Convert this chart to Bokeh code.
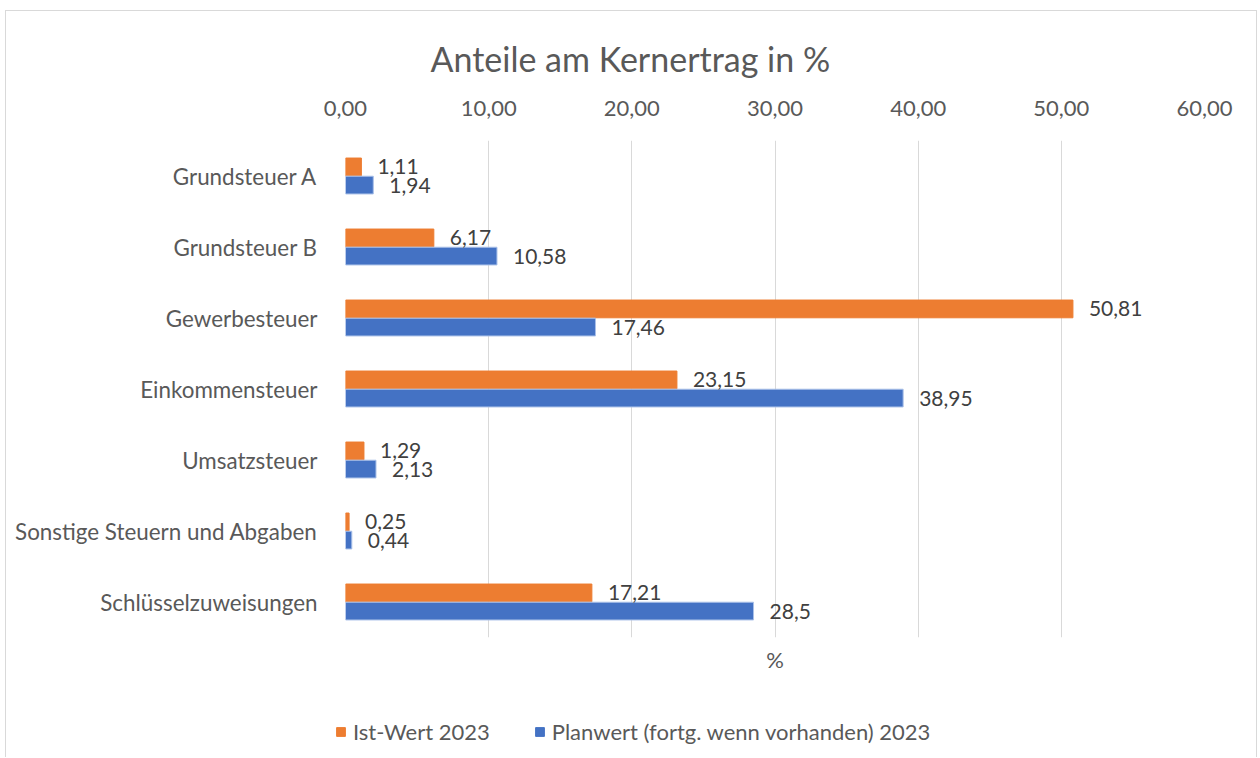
from bokeh.plotting import figure
from bokeh.layouts import column, row
from bokeh.models import (FactorRange, Range1d, FixedTicker, LinearAxis, Legend,
                          LegendItem, ColumnDataSource)
from bokeh.transform import dodge
from bokeh.core.properties import value
from bokeh.embed import file_html
from bokeh.resources import INLINE

categories = ["Grundsteuer A", "Grundsteuer B", "Gewerbesteuer", "Einkommensteuer",
              "Umsatzsteuer", "Sonstige Steuern und Abgaben", "Schlüsselzuweisungen"]
ist_2023 = [1.11, 6.17, 50.81, 23.15, 1.29, 0.25, 17.21]
plan_2023 = [1.94, 10.58, 17.46, 38.95, 2.13, 0.44, 28.5]
series_names = ["Ist-Wert 2023", "Planwert (fortg. wenn vorhanden) 2023"]
x_ticks = [0, 10, 20, 30, 40, 50, 60]
x_tick_labels = ["0,00", "10,00", "20,00", "30,00", "40,00", "50,00", "60,00"]

FONT = "Lato"
ORANGE = "#ED7D31"
BLUE = "#4472C4"
GREY = "#595959"

src = ColumnDataSource(dict(
    cat=categories,
    ist=ist_2023,
    plan=plan_2023,
    ist_lbl=[str(v).replace(".", ",") for v in ist_2023],
    plan_lbl=[str(v).replace(".", ",") for v in plan_2023],
))

p = figure(y_range=FactorRange(factors=categories[::-1], range_padding=0),
           x_range=Range1d(0, 60), width=1250, height=680,
           output_backend="svg", toolbar_location=None, x_axis_location="above",
           min_border_left=339, min_border_right=52, min_border_top=129,
           min_border_bottom=54, outline_line_color=None)

off = 0.128
r1 = p.hbar(y=dodge("cat", off, range=p.y_range), left=0, right="ist", height=0.25,
            color=ORANGE, source=src)
r2 = p.hbar(y=dodge("cat", -off, range=p.y_range), left=0, right="plan", height=0.25,
            fill_color=BLUE, line_color="#a9c0e8", line_width=1, source=src)

p.text(x="ist", y=dodge("cat", off, range=p.y_range), text="ist_lbl", x_offset=16,
       text_baseline="middle", text_align="left", text_font=value(FONT),
       text_font_size="21px", text_color="#404040", source=src)
p.text(x="plan", y=dodge("cat", -off, range=p.y_range), text="plan_lbl", x_offset=16,
       text_baseline="middle", text_align="left", text_font=value(FONT),
       text_font_size="21px", text_color="#404040", source=src)

# top x axis
xa = p.xaxis[0]
xa.ticker = FixedTicker(ticks=x_ticks)
xa.major_label_overrides = {t: l for t, l in zip(x_ticks, x_tick_labels)}
xa.axis_line_color = None
xa.major_tick_line_color = None
xa.minor_tick_line_color = None
xa.major_label_standoff = 19
xa.major_label_text_font = FONT
xa.major_label_text_font_size = "22px"
xa.major_label_text_color = GREY

# bottom axis title
bx = LinearAxis(ticker=FixedTicker(ticks=[]), axis_label="%",
                axis_line_color=None, major_tick_line_color=None,
                minor_tick_line_color=None, axis_label_standoff=8,
                axis_label_text_font=FONT, axis_label_text_font_size="22px",
                axis_label_text_font_style="normal", axis_label_text_color=GREY,
                major_label_text_font_size="0px")
p.add_layout(bx, "below")

ya = p.yaxis[0]
ya.axis_line_color = None
ya.major_tick_line_color = None
ya.minor_tick_line_color = None
ya.major_label_standoff = 22
ya.major_label_text_font = FONT
ya.major_label_text_font_size = "22.4px"
ya.major_label_text_color = GREY

p.xgrid.grid_line_color = "#d9d9d9"
p.xgrid.grid_line_width = 1
p.ygrid.grid_line_color = None

p.title.text = "Anteile am Kernertrag in %"
p.title.align = "left"
p.title.offset = 85
p.title.standoff = 38
p.title.text_font = FONT
p.title.text_font_size = "34px"
p.title.text_font_style = "normal"
p.title.text_color = GREY

# legend strip (separate small figure so the legend is not clipped)
pl = figure(width=1250, height=66, output_backend="svg", toolbar_location=None,
            x_range=Range1d(0, 1), y_range=Range1d(0, 1),
            x_axis_location=None, y_axis_location=None,
            min_border=0, outline_line_color=None)
pl.grid.visible = False
dummy = ColumnDataSource(dict(y=[-5], right=[1]))
l1 = pl.hbar(y="y", right="right", left=0, height=0.5, color=ORANGE, source=dummy)
l2 = pl.hbar(y="y", right="right", left=0, height=0.5, color=BLUE, source=dummy)

legend = Legend(items=[LegendItem(label=series_names[0], renderers=[l1]),
                       LegendItem(label=series_names[1], renderers=[l2])],
                orientation="horizontal", location=(329, 12),
                glyph_width=11, glyph_height=11, label_standoff=7, spacing=44,
                padding=0, margin=0, border_line_color=None, background_fill_alpha=0,
                label_text_font=FONT, label_text_font_size="22px",
                label_text_color=GREY)
pl.add_layout(legend)

layout = column(p, row(pl), spacing=0,
                styles={"border": "1px solid #d9d9d9", "border-bottom": "none",
                        "margin-left": "5px", "margin-top": "10px"})

open("out.html", "w").write(file_html(layout, INLINE))
